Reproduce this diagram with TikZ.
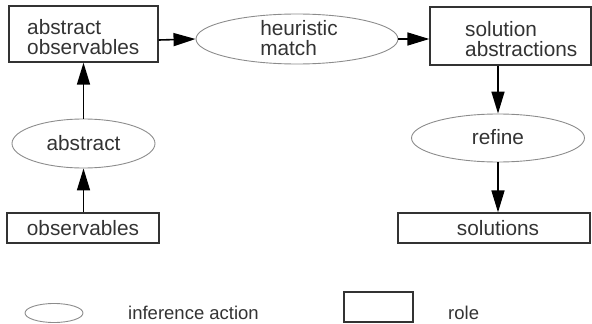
\documentclass[tikz,border=0pt]{standalone}
\usepackage{fontspec}
\setmainfont{Liberation Sans}
\usetikzlibrary{arrows.meta,shapes.geometric}
\begin{document}
\begin{tikzpicture}[x=1pt,y=-1pt,
  role/.style={draw=black!80,line width=1.3pt,inner sep=0pt},
  act/.style={draw=black!45,line width=0.9pt,ellipse,inner sep=0pt},
  lbl/.style={font=\fontsize{20.8}{19.5}\selectfont,text=black!80,align=left,inner sep=0pt},
  leg/.style={font=\fontsize{18.5}{19.5}\selectfont,text=black!80,inner sep=0pt},
  conn/.style={line width=1.6pt,-{Triangle[length=22pt,width=13pt]}}]
\useasboundingbox (0,0) rectangle (592,324);
% abstract observables
\node[role,minimum width=149pt,minimum height=56pt] (ao) at (83.5,34) {};
\node[lbl,anchor=west] (aot) at (27,37) {abstract\\observables};
% heuristic match
\node[act,minimum width=202pt,minimum height=50pt] (hm) at (297,39) {};
\node[lbl] (hmt) at (299,38) {heuristic\\match};
% solution abstractions
\node[role,minimum width=161pt,minimum height=58pt] (sa) at (510.5,36) {};
\node[lbl,anchor=west] (sat) at (465,39) {solution\\abstractions};
% abstract
\node[act,minimum width=143pt,minimum height=49pt] (ab) at (83.5,143.5) {};
\node[lbl] (abt) at (83.5,143) {abstract};
% observables
\node[role,minimum width=152pt,minimum height=30pt] (ob) at (83,228) {};
\node[lbl] (obt) at (83,228) {observables};
% refine
\node[act,minimum width=173pt,minimum height=48pt] (rf) at (498,138) {};
\node[lbl] (rft) at (498,137) {refine};
% solutions
\node[role,minimum width=192pt,minimum height=30pt] (so) at (494,228) {};
\node[lbl] (sot) at (498,228) {solutions};
% connectors
\draw[conn] (ao.east |- 0,40) -- (hm.west);
\draw[conn] (hm.east) -- (sa.west |- hm.east);
\draw[conn] (ob.north -| ab.south) -- (ab.south);
\draw[conn] (ab.north) -- (ao.south -| ab.north);
\draw[conn] (sa.south -| rf.north) -- (rf.north);
\draw[conn] (rf.south) -- (so.north -| rf.south);
% legend
\node[act,minimum width=58pt,minimum height=19pt] (le) at (54,313) {};
\node[leg,anchor=west] (let) at (128,313) {inference action};
\node[role,line width=1.1pt,minimum width=69pt,minimum height=30pt] (lr) at (378.5,307) {};
\node[leg,anchor=west] (lrt) at (448,313) {role};
\end{tikzpicture}
\end{document}
